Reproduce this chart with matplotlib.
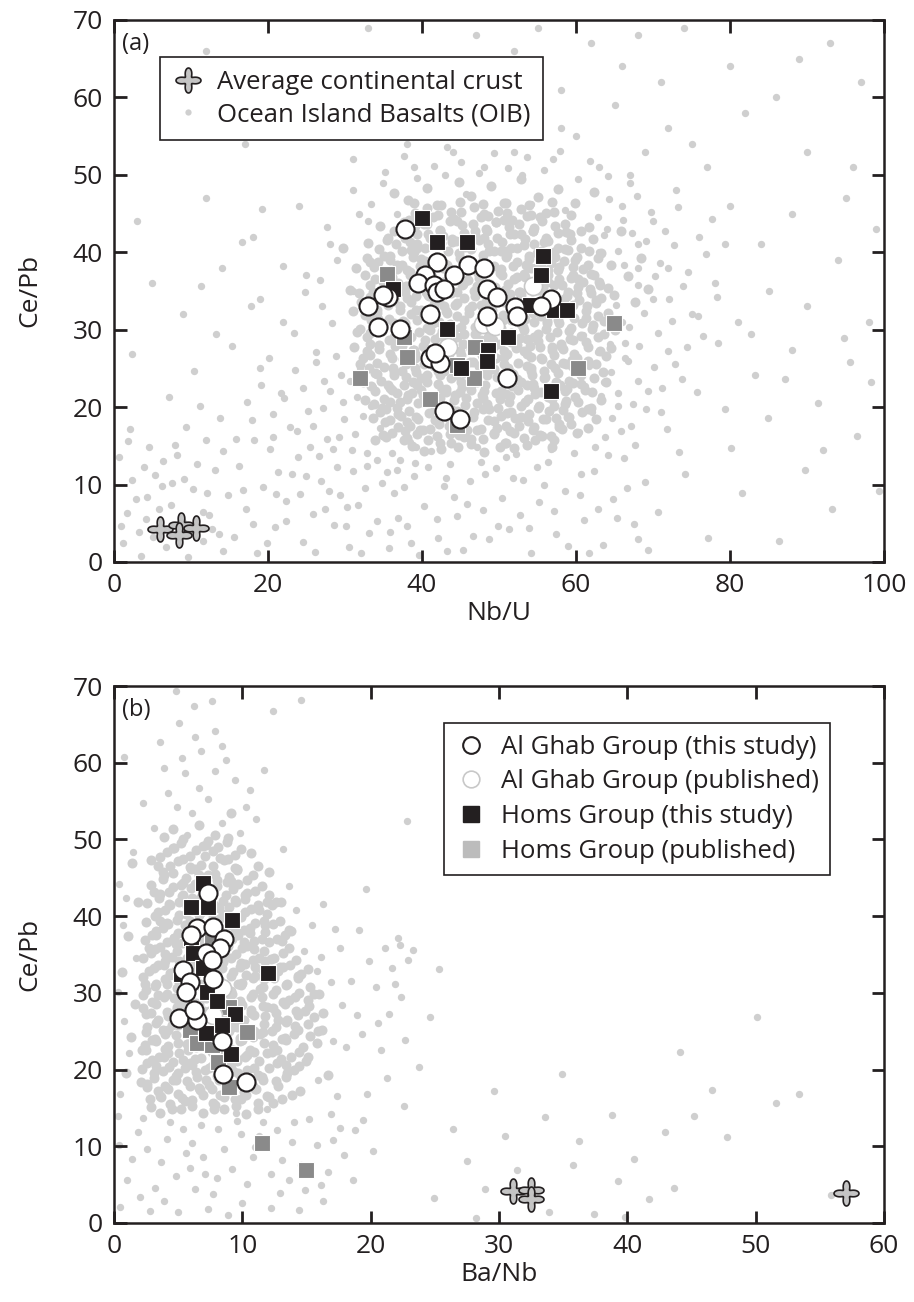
import numpy as np
import matplotlib
matplotlib.use("Agg")
import matplotlib.pyplot as plt
from matplotlib.path import Path
from matplotlib.lines import Line2D

plt.rcParams['font.family'] = ['Open Sans', 'DejaVu Sans']


def pairs(txt):
    return np.array([float(v) for v in txt.split()]).reshape(-1, 2)


# ── data: (a) Nb/U vs Ce/Pb ───────────────────────────────────────────────
ghab_new_a = np.array([
    (37.8, 43.0), (41.9, 38.7), (46.0, 38.3), (48.0, 38.0), (40.4, 37.1), (44.1, 37.0),
    (39.5, 36.0), (41.5, 35.8), (41.9, 34.8), (42.8, 35.2), (35.6, 34.2), (35.0, 34.5),
    (48.5, 35.2), (49.8, 34.2), (33.0, 33.1), (52.1, 32.9), (56.7, 34.0), (55.4, 33.1),
    (52.3, 31.7), (41.1, 32.0), (48.4, 31.8), (34.3, 30.3), (37.1, 30.1), (41.0, 26.4),
    (42.4, 25.7), (41.7, 27.0), (51.0, 23.8), (42.8, 19.5), (45.0, 18.5),
])
ghab_pub_a = np.array([(54.4, 35.6), (47.9, 30.7), (49.5, 30.5), (43.4, 27.7)])
homs_new_a = np.array([
    (40.0, 44.4), (41.9, 41.3), (45.9, 41.3), (55.7, 39.5), (55.4, 37.0), (36.2, 35.2),
    (54.0, 33.2), (57.1, 32.5), (58.8, 32.6), (43.2, 30.1), (51.2, 29.0), (48.6, 27.4),
    (48.4, 25.9), (45.1, 25.0), (56.7, 22.1),
])
homs_pub_a = np.array([
    (35.4, 37.2), (37.6, 29.1), (38.0, 26.5), (46.9, 27.8), (31.9, 23.8), (41.1, 21.1),
    (46.7, 23.8), (44.5, 17.7), (64.9, 30.8), (60.2, 25.1), (44.6, 25.4),
])
crust_a = np.array([(6.0, 4.3), (8.7, 4.8), (8.5, 3.5), (10.7, 4.4)])

# OIB compilation, outer scatter
oib_a_outer = pairs("""
1.2 2.5 2.8 8.1 3.5 0.8 4.1 5.6 5.3 11.2 6.7 1.9 7.4 7.3 8.2 13.8 9.6 0.6 10.3 9.4
11.5 2.7 12.4 6.1 13.1 11.9 14.2 1.4 14.8 8.6 0.6 13.5 2.1 17.2 4.6 14.9 6.2 9.8 8.9 5.2
11.9 15.7 3.3 3.9 5.8 6.9 9.1 10.7 12.7 4.3 1.7 6.3 7.9 15.1
0.9 4.6 2.4 10.6 3.9 12.3 5.1 3.2 6.4 13.1 7.6 10.2 8.4 2.3 10.8 12.7 12.1 8.9 13.6 3.6
14.1 14.3 1.8 15.6 9.9 3.9 11.6 6.5 4.3 8.4
15.6 3.2 16.3 12.4 17.1 6.8 17.9 18.3 18.6 1.1 19.4 9.7 20.2 14.6 20.9 4.5 21.7 21.8 22.3 7.9
23.1 11.3 23.8 16.9 24.5 2.6 25.2 19.5 25.9 6.2 26.6 13.7 27.3 23.4 27.9 9.1 28.6 4.8 29.2 16.2
29.8 20.7 30.5 1.9 31.1 11.8 31.7 7.4 32.3 18.9 32.9 14.1 33.6 22.6 34.2 5.3 34.8 10.2 16.8 9.3
18.2 15.8 19.9 2.4 21.3 11.6 22.8 17.4 24.1 8.8 26.1 1.3 27.6 15.9 28.9 12.2 30.2 7.1 31.5 21.3
33.1 3.7 34.5 17.3 19.1 22.9 23.5 24.8 26.9 10.4 29.5 24.1 32.6 9.6 20.6 19.1 25.5 14.9 30.9 14.4
17.3 20.7 18.9 25.1 20.7 16.2 22.1 21.2 23.9 13.6 24.6 22.4 25.8 17.6 26.3 25.8 27.1 19.9 28.4 14.6
28.1 22.1 29.3 8.6 29.9 18.4 30.7 23.4 31.3 16.5 31.9 25.1 32.8 12.4 33.4 20.2 34.1 13.2 34.6 27.6
35.4 11.6 36.1 14.1 36.8 11.9 37.6 9.7 38.4 15.5 39.1 12.8 22.4 5.3 24.9 11.1 27.4 6.9 30.1 4.6
32.1 1.2 35.9 3.9 18.1 4.9 21.1 8.8 15.9 15.9 13.8 18.6 11.2 20.1 9.3 17.4
35.7 1.8 36.4 8.9 37.2 13.2 38.1 4.6 38.9 11.1 39.6 0.9 40.3 7.2 41.2 14.3 42.1 3.1 42.8 9.8
43.7 12.6 44.5 5.9 45.3 1.5 46.2 10.4 47.1 14.8 47.9 6.7 48.7 2.9 49.6 12.1 50.4 8.3 51.3 4.2
52.2 13.9 53.1 10.6 54.1 1.1 55.2 7.8 56.3 12.9 57.4 3.6 58.6 9.2 59.8 14.1 61.1 5.4 62.3 11.7
63.5 2.2 64.8 8.1 66.2 13.4 67.5 4.9 68.9 10.3 36.9 5.7 40.8 12.2 44.1 8.4 48.2 11.3 52.7 6.1
56.8 14.6 60.5 8.6 65.3 5.7 69.4 1.6 39.2 14.9 46.6 3.4
41.9 5.6 43.3 1.4 45.8 7.5 47.6 12.9 49.9 4.7 51.8 10.9 53.9 4.4 54.9 12.2 57.1 6.6 58.9 2.1
60.7 11.4 62.9 6.9 64.2 13.8 66.6 9.6 68.1 2.9 38.6 2.4 43.1 10.8 50.9 13.6 55.8 9.9 61.7 1.1
70.6 6.4 71.8 17.2 72.9 25.6 74.1 11.3 75.7 21.9 77.2 3.1 78.4 28.3 80.1 14.7 81.6 8.9 83.2 24.1
84.9 18.6 86.3 2.7 88.1 27.4 89.7 11.9 91.4 20.5 93.2 6.8 94.8 28.9 96.5 16.3 98.3 23.2 99.4 9.1
73.4 14.2 79.3 19.8 87.2 23.6 92.1 14.5 76.5 29.2 82.7 29.5 95.6 25.8 71.2 22.4
60.4 16.8 61.2 22.7 62.1 19.3 62.9 27.1 63.8 16.1 64.6 24.5 65.5 20.2 66.3 28.3 67.2 17.6 68.1 23.4
69.1 19.8 60.9 29.3 63.2 21.4 66.8 25.9 61.7 25.3 65.9 16.9
62.8 44.6 64.3 46.9 66.1 44.1 67.9 47.3 69.8 45.2 71.6 42.7 73.3 45.8 63.7 42.2 65.4 40.1 67.3 42.5
69.1 41.4 70.9 38.6 72.7 40.9 74.6 37.4 66.2 38.3 68.0 35.8 70.2 36.9 72.1 33.9 73.9 35.6 75.8 31.7
65.2 33.2 66.9 30.4 68.8 32.2 70.7 29.6 72.5 31.1 74.4 27.8 64.4 28.1 66.3 26.3 68.2 27.9 70.1 25.2
71.9 27.3 73.8 23.6 63.6 23.2 65.5 21.8 67.4 20.4 69.3 22.1 71.1 19.3 64.7 18.6 62.5 14.8 67.7 15.1
76.9 39.8 78.3 34.2 77.6 44.3 79.4 41.1
33.4 46.2 35.2 50.3 37.6 52.4 39.3 49.6 41.6 51.1 43.2 53.6 45.1 51.7 47.4 50.2 49.3 52.8 51.2 50.9
53.6 52.3 55.8 50.6 57.9 53.1 60.2 49.4 61.8 51.8 64.1 49.9 31.8 44.9 36.8 44.9 45.7 47.5 54.1 46.2
58.6 45.4
15.3 27.9 17.8 33.1 20.1 26.4 21.9 38.2 23.4 29.6 24.8 34.8 26.2 27.1 27.7 43.2 28.3 30.9 16.6 41.3
19.2 45.6 13.2 29.4 10.4 24.6 7.1 21.3 2.4 26.8 11.3 35.7 26.7 36.4 28.8 26.6
5 36 9 32 14 38 19 34 22 31 25 37 27 33 29 39 31 35 72 38 75 32 78 36 81 31 85 35 90 33 94 39
98 31 70 34 68 38 66 31
3 44 12 47 18 42 24 46 28 41 31 48 33 44 35 49 64 43 66 46 68 41 70 44 73 48 76 42 80 46 84 41
88 45 95 47 99 43 67 49 63 40
8 57 17 54 26 58 31 52 36 56 39 51 42 58 44 53 46 55 48 51 50 57 52 53 55 58 57 52 60 55 63 51
65 59 69 53 72 56 77 51 82 58 90 53 96 51 38 54 43 50 47 59 53 50 58 56 67 50 75 54
12 66 28 63 33 69 47 68 52 66 58 61 62 67 66 64 71 62 74 69 80 64 86 60 93 67 97 62 40 61 55 69
22 60 45 63 68 68 89 65
""")

# OIB compilation, dense core
oib_a_core = pairs("""
35.3 16.2 35.8 22.4 36.5 27.9 36.9 19.1 37.4 24.6 37.8 16.9 38.3 29.2 38.7 21.8 39.1 26.3 39.5 18.4
39.9 23.7 40.4 28.6 40.8 15.7 41.3 20.9 41.7 25.4 42.2 17.8 42.6 29.8 43.1 22.3 43.5 26.9 43.9 19.6
44.4 24.1 44.8 16.4 45.3 28.1 45.7 21.2 46.2 25.8 46.6 18.7 47.1 23.3 47.5 27.6 47.9 15.9 48.4 20.4
48.8 29.1 49.3 24.9 49.7 17.3 50.2 22.1 50.6 26.5 51.1 19.2 51.5 28.4 52.0 16.6 52.4 23.6 52.9 20.1
53.3 27.3 53.8 18.2 54.2 25.1 54.7 21.7 55.1 29.5 55.6 16.3 56.0 23.9 56.5 19.5 56.9 27.7 57.4 22.6
57.8 17.8 58.3 25.7 58.7 20.8 59.2 28.8 59.6 23.1 36.2 25.1 37.1 20.6 38.0 18.1 38.9 27.4 40.1 21.6
41.0 17.2 41.9 27.8 42.9 24.6 43.8 15.3 44.9 21.9 45.9 17.1 46.9 29.4 47.8 21.6 48.9 25.8 49.9 19.9
50.9 15.4 51.8 24.3 52.7 28.9 53.6 22.9 54.5 17.4 55.4 26.4 56.3 21.3 57.2 15.8 58.1 28.1 59.0 18.7
36.7 29.6 39.4 16.5 42.4 21.2 45.1 18.9 47.4 25.3 50.1 28.2 52.8 18.7 55.8 24.7 58.8 22.3 37.7 22.9
40.7 24.1 43.4 28.4 46.4 22.8 49.4 16.6 51.4 21.4 54.0 27.9 57.1 20.1 59.5 26.1 34.1 24.3 33.3 28.1
32.4 26.4 31.6 29.7 34.8 19.9 33.9 15.8
32.1 33.6 33.2 38.7 34.3 31.4 34.9 36.2 35.6 41.8 36.3 33.9 36.8 38.4 37.5 31.1 37.9 35.7 38.6 40.3
39.2 32.6 39.7 37.1 40.2 43.6 40.9 34.4 41.4 30.8 41.8 39.2 42.3 35.9 42.7 42.1 43.2 32.2 43.7 37.6
44.1 44.3 44.6 34.9 45.1 30.4 45.5 40.8 46.0 36.4 46.5 33.1 46.9 42.7 47.4 38.2 47.8 31.6 48.3 35.3
48.7 40.1 49.2 33.7 49.6 43.9 50.1 37.3 50.5 31.2 51.0 39.6 51.4 34.6 51.9 42.4 52.3 36.8 52.8 30.7
53.2 40.9 53.7 33.4 54.1 37.9 54.6 43.1 55.0 35.1 55.5 31.8 55.9 41.3 56.4 36.2 56.9 33.3 57.3 39.4
57.8 30.9 58.2 35.8 58.7 42.6 59.1 32.9 59.6 38.1 60.1 34.7 60.7 40.6 61.3 31.5 61.9 37.2 62.6 33.8
63.3 39.9 64.1 35.4 64.8 31.3 33.7 34.9 35.1 39.5 36.6 30.3 38.1 34.1 39.4 41.1 40.6 36.7 41.6 32.9
42.9 38.6 44.3 33.2 45.8 38.9 47.1 35.6 48.1 41.9 49.4 30.3 50.8 35.1 52.1 33.1 53.5 38.4 54.9 39.9
56.2 31.1 57.6 37.7 58.9 40.3 60.3 36.6 61.7 43.2 63.0 36.1 37.3 43.2 39.9 39.1 43.9 41.3 48.6 44.7
51.7 44.1 55.3 44.6 59.4 44.8 36.1 36.8 41.1 41.9 45.3 35.9 50.3 40.2 54.4 32.1 58.4 33.9 62.2 41.7
38.4 37.4 46.8 37.9 52.6 34.8 56.7 38.6 64.5 38.3 34.5 43.4 33.0 41.2 31.4 37.9 30.6 35.1 29.7 40.6
65.8 42.8 66.7 36.9 67.6 33.6 68.5 39.2 69.4 35.3
38.2 46.8 40.7 48.3 42.5 46.1 44.8 49.1 46.3 47.2 48.9 48.6 50.7 46.4 52.9 49.4 55.1 47.1 57.6 48.2
36.4 47.6 59.9 46.3 62.4 47.8
40.2 14.3 44.7 14.9 48.1 14.2 51.9 14.7 37.6 15.8 42.3 15.3 46.4 15.9 50.8 15.4 54.7 15.7
36.1 16.6 39.8 17.1 43.6 16.5 47.2 17.0 51.4 16.9 55.3 16.4 58.2 17.2
35.2 18.1 38.4 17.6 41.7 18.3 45.1 17.7 49.3 18.2 52.6 17.5 56.1 18.4 59.4 17.8
34.6 19.3 37.3 18.8 40.9 19.2 43.2 18.7 46.8 19.4 50.2 18.9 53.9 19.1 57.4 18.6 60.8 19.3
33.8 20.4 36.7 19.9 39.5 20.5 42.8 20.0 45.6 20.3 48.7 19.8 51.3 20.6 55.2 20.1 58.6 20.4 61.9 19.9
35.1 21.1 38.2 21.6 41.4 21.0 44.3 21.5 47.9 21.2 50.9 21.7 53.8 21.1 56.7 21.6 59.9 21.3
33.4 22.7 36.1 22.2 39.3 22.8 42.6 22.3 45.2 22.6 48.1 22.1 51.7 22.7 54.6 22.4 57.9 22.8 61.2 22.2
34.7 23.4 37.9 23.9 40.6 23.3 43.8 23.8 46.9 23.5 49.8 23.9 52.9 23.3 55.8 23.7 59.1 23.4 62.4 23.8
33.1 25.0 36.4 24.5 39.1 25.1 42.1 24.6 45.3 24.9 48.4 24.4 51.2 25.0 54.1 24.6 57.3 25.1 60.2 24.7
34.2 25.7 37.5 26.2 40.3 25.6 43.4 26.1 46.6 25.8 49.6 26.3 52.5 25.7 55.6 26.2 58.7 25.6 61.6 26.0
32.8 27.3 35.9 26.8 38.8 27.4 41.9 26.9 44.9 27.2 47.8 26.7 50.7 27.3 53.7 26.9 56.9 27.4 59.8 26.8
63.1 27.2 34.4 28.0 37.2 28.5 40.1 27.9 43.1 28.4 46.2 28.1 49.2 28.6 52.3 28.0 55.1 28.5 58.1 27.9
61.3 28.4 33.2 29.6 36.3 29.1 39.6 29.7 42.4 29.2 45.5 29.5 48.6 29.0 51.6 29.6 54.5 29.1 57.5 29.7
60.6 29.2 63.6 29.5 34.9 30.3 37.8 30.8 40.7 30.2 43.7 30.7 46.9 30.4 49.9 30.9 53.1 30.3 56.2 30.8
59.3 30.2 62.2 30.6 32.6 31.9 35.7 31.4 38.6 32.0 41.6 31.5 44.6 31.8 47.6 31.3 50.5 31.9 53.4 31.4
56.6 32.0 59.7 31.5 62.9 31.8 34.1 32.6 37.1 33.1 39.9 32.5 42.9 33.0 46.1 32.7 48.9 33.2 52.1 32.6
54.9 33.1 58.2 32.5 61.4 33.0 33.3 34.2 36.2 33.7 39.2 34.3 42.2 33.8 45.4 34.1 48.3 33.6 51.3 34.2
54.3 33.7 57.1 34.3 60.4 33.8 63.3 34.1 34.8 34.9 37.7 35.4 40.5 34.8 43.5 35.3 46.7 35.0 49.5 35.5
52.7 34.9 55.7 35.4 58.9 34.8 61.8 35.2 33.9 36.5 36.9 36.0 39.7 36.6 42.7 36.1 45.9 36.4 48.8 35.9
51.9 36.5 54.8 36.0 57.8 36.6 60.9 36.1 35.3 37.2 38.1 37.7 41.2 37.1 44.1 37.6 47.3 37.3 50.3 37.8
53.3 37.2 56.4 37.7 59.6 37.1 34.3 38.8 37.4 38.3 40.4 38.9 43.3 38.4 46.4 38.7 49.4 38.2 52.4 38.8
55.4 38.3 58.4 38.9 61.6 38.4 35.9 39.5 38.9 40.0 41.8 39.4 44.8 39.9 47.9 39.6 50.9 40.1 53.9 39.5
57.2 40.0 60.1 39.4 36.6 41.1 39.4 40.6 42.5 41.2 45.6 40.7 48.6 41.0 51.6 40.5 54.6 41.1 57.7 40.6
37.8 41.8 40.8 42.3 43.9 41.7 46.9 42.2 49.8 41.9 52.8 42.4 56.1 41.8 59.2 42.3 39.1 43.4 42.3 42.9
45.2 43.5 48.3 43.0 51.3 43.3 54.4 42.8 57.3 43.4 38.3 44.1 41.4 44.6 44.6 44.0 47.6 44.5 50.6 44.2
53.6 44.7 40.6 45.7 43.8 45.2 46.8 45.8 49.9 45.3 52.9 45.6 56.1 45.1
38.7 15.0 42.5 14.6 46.3 15.2 50.1 14.8 53.6 15.1 56.9 14.9
34.9 16.4 38.1 16.0 41.9 16.3 45.4 16.1 49.3 16.5 53.2 16.0 56.8 16.3 60.1 16.6
36.9 17.4 40.1 17.0 43.5 17.5 47.6 17.2 50.9 17.6 54.4 17.1 57.8 17.4 61.6 17.3
33.7 18.6 35.9 18.3 39.2 18.7 42.1 18.4 44.9 18.8 48.6 18.3 52.1 18.6 55.7 18.4 59.1 18.7 62.6 18.5
35.3 19.8 38.3 19.5 41.7 19.9 44.6 19.5 47.9 19.8 51.6 19.4 55.1 19.9 58.3 19.6 61.5 19.8
32.6 20.9 35.9 20.6 38.1 21.0 41.3 20.7 44.2 20.9 47.2 20.5 50.1 21.0 53.4 20.7 56.9 21.0 60.3 20.6
63.2 20.9 33.9 22.1 36.8 21.8 39.9 22.2 43.1 21.9 46.4 22.2 49.6 21.8 52.5 22.2 55.4 21.9 58.6 22.1
62.1 21.9 32.4 23.2 35.6 22.9 38.8 23.3 42.1 23.0 45.1 23.3 48.2 22.9 51.3 23.2 54.4 23.0 57.4 23.3
60.6 23.0 63.9 23.2 33.9 24.4 36.3 24.1 39.2 24.5 42.3 24.2 45.5 24.4 48.4 24.1 51.4 24.5 54.3 24.2
57.6 24.4 60.7 24.2 63.5 24.5 31.9 25.5 35.1 25.2 37.9 25.6 41.6 25.3 44.8 25.5 47.9 25.2 50.6 25.6
53.6 25.3 56.7 25.5 59.5 25.3 62.6 25.5 33.2 26.7 36.1 26.4 39.1 26.8 41.9 26.5 45.1 26.7 48.1 26.4
51.1 26.8 54.1 26.5 57.2 26.7 60.1 26.4 63.9 26.6 31.2 27.8 34.4 27.5 37.4 27.9 40.4 27.6 43.4 27.8
46.3 27.5 49.3 27.9 52.2 27.6 55.3 27.8 58.3 27.5 61.5 27.8 64.6 27.6 32.8 29.0 35.7 28.7 38.6 29.1
41.7 28.8 44.6 29.0 47.7 28.7 50.8 29.1 53.7 28.8 56.6 29.0 59.6 28.7 62.8 29.0 31.9 30.1 34.8 29.8
37.9 30.2 41.1 29.9 44.1 30.1 47.2 29.8 50.3 30.2 53.2 29.9 56.1 30.1 59.1 29.8 62.1 30.1 65.1 29.9
33.4 31.2 36.4 30.9 39.3 31.3 42.2 31.0 45.4 31.2 48.4 30.9 51.5 31.3 54.6 31.0 57.7 31.2 60.8 30.9
63.7 31.1 31.1 32.4 34.1 32.1 37.1 32.5 40.1 32.2 43.1 32.4 46.1 32.1 49.1 32.5 51.9 32.2 55.1 32.4
58.1 32.1 61.3 32.4 64.2 32.2 32.6 33.5 35.6 33.2 38.6 33.6 41.5 33.3 44.5 33.5 47.6 33.2 50.6 33.6
53.5 33.3 56.6 33.5 59.6 33.2 62.6 33.5 31.8 34.7 34.8 34.4 37.8 34.8 40.8 34.5 43.8 34.7 46.9 34.4
49.8 34.8 52.9 34.5 55.8 34.7 58.8 34.4 61.9 34.7 64.9 34.5 33.3 35.8 36.2 35.5 39.1 35.9 42.1 35.6
45.2 35.8 48.1 35.5 51.2 35.9 54.2 35.6 57.2 35.8 60.3 35.5 63.1 35.8 32.6 37.0 35.4 36.7 38.4 37.1
41.3 36.8 44.4 37.0 47.4 36.7 50.4 37.1 53.4 36.8 56.3 37.0 59.3 36.7 62.4 37.0 33.8 38.1 36.7 37.8
39.8 38.2 42.7 37.9 45.8 38.1 48.8 37.8 51.8 38.2 54.8 37.9 57.8 38.1 60.9 37.8 32.9 39.3 35.8 39.0
38.8 39.4 41.9 39.1 44.9 39.3 47.9 39.0 50.9 39.4 53.9 39.1 56.9 39.3 59.9 39.0 62.9 39.3 34.4 40.4
37.4 40.1 40.4 40.5 43.4 40.2 46.4 40.4 49.4 40.1 52.4 40.5 55.4 40.2 58.6 40.4 61.7 40.1 35.4 41.6
38.4 41.3 41.4 41.7 44.4 41.4 47.4 41.6 50.4 41.3 53.4 41.7 56.4 41.4 59.4 41.6 36.4 42.7 39.4 42.4
42.4 42.8 45.4 42.5 48.4 42.7 51.4 42.4 54.4 42.8 57.6 42.5 60.6 42.7 37.6 43.9 40.6 43.6 43.6 44.0
46.6 43.7 49.6 43.9 52.6 43.6 55.6 44.0 58.6 43.7 39.1 45.1 42.1 44.8 45.1 45.2 48.1 44.9 51.1 45.1
54.1 44.8 57.1 45.2 38.9 46.4 41.9 46.1 44.9 46.5 47.9 46.2 50.9 46.4 53.9 46.1 56.9 46.5
""")

# ── data: (b) Ba/Nb vs Ce/Pb ──────────────────────────────────────────────
ghab_new_b = np.array([
    (6.47, 38.5), (7.72, 38.6), (8.57, 37.0), (8.26, 35.8), (7.17, 35.2), (7.64, 34.3),
    (5.38, 33.0), (5.92, 31.4), (5.61, 30.1), (7.72, 31.8), (5.07, 26.7), (6.47, 26.4),
    (8.42, 23.7), (8.50, 19.4), (10.3, 18.4), (6.20, 27.8), (6.0, 37.6), (7.3, 43.0),
])
ghab_pub_b = np.array([(8.42, 30.6), (7.7, 27.1), (6.9, 33.9), (8.0, 24.6)])
homs_new_b = np.array([
    (6.94, 44.3), (6.0, 41.2), (7.33, 41.2), (9.2, 39.5), (6.0, 37.2), (6.16, 35.2),
    (6.94, 33.2), (5.22, 32.5), (12.0, 32.6), (7.25, 30.1), (8.03, 28.9), (9.43, 27.2),
    (8.42, 25.8), (7.17, 24.8), (9.12, 22.0),
])
homs_pub_b = np.array([
    (7.6, 37.3), (10.4, 24.9), (5.9, 25.2), (6.5, 23.5), (7.6, 23.2), (8.1, 21.0),
    (9.0, 17.7), (9.0, 28.2), (11.5, 10.4), (15.0, 6.9), (8.0, 29.2),
])
crust_b = np.array([(31.1, 4.2), (32.5, 4.3), (32.5, 3.1), (57.05, 3.9)])

oib_b_outer = pairs("""
4.8 69.3 6.2 67.4 5.1 65.2 7.9 64.1 3.6 62.7 6.8 61.5 8.7 60.3 5.5 58.6 9.4 57.8 4.2 56.1
7.3 55.3 10.3 54.2 6.1 53.4 8.4 52.1 3.1 51.5 5.7 50.6 9.8 50.9 11.7 59.1 2.3 54.8 7.6 68.1
12.4 66.7 14.6 68.2 0.8 60.8 11.1 52.6 13.2 48.8 33.2 58.7 22.8 52.4 19.6 43.6
4.9 54.2 6.6 56.7 7.9 58.9 5.3 60.6 6.3 63.4 8.4 62.2 10.6 56.4 3.9 59.3
0.5 2.1 1.4 8.3 2.3 13.7 3.2 4.6 4.1 10.9 5.0 1.4 5.9 7.2 6.8 12.8 7.7 3.8 8.6 9.6
9.5 14.3 10.4 5.1 11.3 11.4 12.2 1.9 13.1 8.2 14.0 13.1 14.9 4.3 15.8 10.1 16.7 6.7 17.6 12.4
1.9 11.8 3.7 7.9 5.4 12.2 7.1 6.4 8.9 1.1 10.8 8.6 12.7 12.1 14.6 7.6 16.3 2.8 2.8 1.5
6.3 4.4 9.9 11.6 13.6 5.6 0.3 13.9 4.6 14.8 11.9 14.9 17.9 8.9
1.0 5.6 2.6 9.7 3.9 2.9 4.8 6.1 6.1 10.4 7.3 1.8 8.1 12.3 9.2 7.1 10.0 2.6 11.6 13.2
12.9 3.9 13.9 10.5 15.2 13.6 16.1 4.9 17.1 10.8 0.4 10.2 2.0 3.4 5.6 9.1 8.0 5.8 11.0 9.9
14.4 1.7 16.9 14.2 18.6 5.6 19.4 13.4 6.9 8.6 4.4 13.2 9.6 13.3 12.2 6.4
16.1 34.7 17.2 38.3 17.8 28.4 18.5 31.6 19.3 24.7 20.4 30.8 21.1 35.9 21.7 33.2 22.1 37.1 22.4 29.4
22.9 34.3 21.4 27.3 20.8 22.6 19.7 16.8 18.8 12.1 20.2 9.4 22.6 15.2 23.8 20.3 17.4 16.6 24.6 26.8
14.8 35.4 15.4 38.9 16.3 41.6 16.9 31.4 17.6 35.8 18.1 22.9 18.9 27.1 15.9 18.6 17.1 23.7 14.2 40.8
13.6 43.9 19.1 38.2 19.9 34.1 20.6 26.1 21.9 31.1 22.7 23.8 21.3 18.9 23.3 35.6 22.3 36.2 15.8 32.8
25.3 33.1 26.4 12.2 27.5 8.1 28.9 4.4 29.6 17.2 30.5 11.3 31.4 6.9 33.6 13.8 34.9 19.4 35.8 7.6
36.2 10.7 37.4 1.2 38.8 14.1 39.3 5.5 40.5 8.3 41.7 3.1 43.6 4.6 44.1 22.3 45.2 13.9 47.8 11.2
50.1 26.9 51.6 15.6 53.4 16.8 55.9 3.7 28.2 0.6 33.9 1.4 42.9 11.8 46.6 17.3 24.9 3.2 39.8 0.8
0.4 44.2 0.7 38.9 0.3 30.1 0.8 26.3 1.2 22.1 0.5 16.8 1.7 34.6 1.5 48.3 0.9 42.4
""")

oib_b_core = pairs("""
2.9 47.3 4.6 48.9 5.9 46.4 7.2 49.3 8.3 47.6 9.6 46.1 10.7 48.2 6.6 45.3 3.8 45.8 12.1 45.7 1.4 46.9
3.1 43.2 4.3 41.6 5.2 44.1 6.1 42.4 7.3 43.8 8.2 41.1 9.1 44.6 10.2 42.7 11.3 40.8 3.6 39.4
4.7 37.2 5.6 40.3 6.4 38.1 7.7 39.7 8.6 37.5 9.5 39.9 10.6 37.8 11.8 38.9 12.6 41.9 2.7 35.8
3.9 33.6 4.8 36.4 5.9 34.2 6.9 36.9 7.8 34.8 8.9 36.1 9.9 33.9 10.9 35.7 12.2 34.4 13.1 36.8
2.4 31.2 3.4 29.7 4.4 32.6 5.3 30.4 6.3 32.1 7.2 29.3 8.1 31.7 9.2 29.9 10.3 32.3 11.4 30.5
12.5 31.9 13.6 29.1 2.9 27.4 3.8 25.2 4.9 27.9 5.8 24.6 6.7 26.8 7.6 24.1 8.7 27.3 9.6 25.5
10.7 27.8 11.6 24.9 12.8 26.4 14.1 25.7 2.2 22.6 3.3 20.4 4.2 23.1 5.4 21.3 6.4 22.9 7.4 20.2
8.4 22.4 9.3 19.8 10.4 21.9 11.2 19.3 12.3 22.3 13.4 20.6 2.6 18.1 3.7 16.4 4.6 18.7 5.5 15.9
6.6 17.6 7.9 15.4 8.9 17.9 9.9 16.2 11.1 17.4 12.4 15.6 4.1 39.1 5.4 42.8 6.7 40.6 8.0 44.7
9.4 42.1 3.3 37.6 6.2 35.3 7.1 33.3 8.4 33.2 9.7 31.1 4.1 31.1 5.1 28.6 6.0 30.9 7.0 27.6
8.3 28.8 9.0 26.1 10.0 28.4 4.5 25.8 5.6 26.7 6.2 23.8 7.1 25.3 8.1 23.3 9.8 23.7 10.8 24.3
3.9 21.7 5.0 19.6 6.1 20.6 7.2 18.7 8.3 19.4 9.6 21.1 10.6 18.6 3.0 23.9 11.9 28.2 12.9 33.4
13.8 38.1 14.3 32.2 14.9 27.6 15.6 29.9 16.2 25.1 15.1 21.7 16.7 19.3 14.5 17.2 13.3 24.1 1.6 28.5
1.1 37.4 1.9 41.8 0.6 32.7 1.3 24.2 0.9 19.5 6.9 37.8 5.5 33.1 4.0 35.1 7.5 41.5 10.1 36.6
11.0 33.4 8.6 35.0 9.4 38.1
3.6 14.4 5.2 14.9 6.9 14.3 8.6 14.8 10.3 14.2 2.8 16.1 4.4 15.5 6.1 16.0 7.7 15.6 9.4 16.2
11.2 15.7 13.1 16.1 3.4 17.2 5.0 16.8 6.7 17.3 8.3 16.7 10.1 17.1 11.9 16.6 2.1 18.4 4.0 17.9
5.7 18.5 7.4 18.0 9.0 18.3 10.8 17.8 12.6 18.5 3.1 19.6 4.8 19.1 6.4 19.7 8.0 19.2 9.7 19.5
11.5 19.0 13.5 19.6 2.6 20.8 4.3 20.3 5.9 20.9 7.6 20.4 9.1 20.7 10.9 20.2 12.7 20.8 14.4 20.5
3.5 21.6 5.1 22.1 6.8 21.5 8.5 22.0 10.2 21.7 11.9 22.2 13.8 21.6 2.4 23.2 4.0 22.7 5.7 23.3
7.3 22.8 8.9 23.1 10.6 22.6 12.4 23.2 14.7 23.0 3.2 24.0 4.8 24.5 6.5 23.9 8.1 24.4 9.8 24.1
11.4 24.6 13.1 24.0 15.3 24.4 2.6 25.6 4.2 25.1 5.9 25.7 7.6 25.2 9.2 25.5 10.9 25.0 12.6 25.6
14.3 25.2 3.4 26.4 5.1 26.9 6.8 26.3 8.4 26.8 10.1 26.5 11.8 27.0 13.5 26.4 15.6 26.9 2.3 28.0
4.1 27.5 5.6 28.1 7.4 27.6 9.0 27.9 10.7 27.4 12.4 28.0 14.2 27.6 3.0 28.8 4.7 29.3 6.4 28.7
8.1 29.2 9.8 28.9 11.5 29.4 13.2 28.8 15.1 29.1 2.5 30.4 4.1 29.9 5.8 30.5 7.5 30.0 9.1 30.3
10.8 29.8 12.6 30.4 14.4 30.0 3.3 31.2 5.0 31.7 6.7 31.1 8.3 31.6 10.0 31.3 11.7 31.8 13.5 31.2
2.7 32.8 4.4 32.3 6.0 32.9 7.7 32.4 9.3 32.7 11.0 32.2 12.8 32.8 14.6 32.5 3.4 33.6 5.1 34.1
6.8 33.5 8.5 34.0 10.2 33.7 11.8 34.2 13.7 33.6 2.9 35.2 4.5 34.7 6.2 35.3 7.9 34.8 9.5 35.1
11.3 34.6 13.2 35.2 3.6 36.0 5.3 36.5 7.0 35.9 8.7 36.4 10.4 36.1 12.1 36.6 3.0 37.6 4.7 37.1
6.4 37.7 8.0 37.2 9.7 37.5 11.5 37.0 13.3 37.6 3.8 38.4 5.5 38.9 7.2 38.3 8.9 38.8 10.6 38.5
12.4 39.0 3.2 40.0 4.9 39.5 6.6 40.1 8.2 39.6 9.9 39.9 11.7 39.4 4.0 40.8 5.7 41.3 7.4 40.7
9.0 41.2 10.7 40.9 12.3 41.4 3.5 42.4 5.1 41.9 6.8 42.5 8.5 42.0 10.2 42.3 11.9 41.8 4.3 43.2
6.0 43.7 7.6 43.1 9.3 43.6 11.0 43.3 3.8 44.8 5.4 44.3 7.1 44.9 8.8 44.4 10.4 44.7 4.6 45.6
6.3 46.1 7.9 45.5 9.6 46.0 5.0 47.2 6.8 46.7 8.6 47.3 3.4 46.6 4.1 48.4 5.9 47.9 7.7 48.5
9.4 48.0 5.2 49.6 6.9 49.1 8.8 49.7 4.6 51.3 6.6 51.9 7.9 50.6 9.1 53.4
2.9 15.1 4.5 14.8 6.1 15.2 7.8 14.9 9.5 15.2 11.2 14.9 3.6 16.6 5.3 16.3 6.9 16.7 8.6 16.4
10.3 16.7 12.1 16.4 13.9 16.7 2.6 17.7 4.2 17.4 5.9 17.8 7.6 17.5 9.2 17.8 11.0 17.5 12.8 17.8
3.1 18.9 4.8 18.6 6.5 19.0 8.2 18.7 9.9 19.0 11.6 18.7 13.4 19.0 2.2 20.1 3.8 19.8 5.5 20.2
7.1 19.9 8.8 20.2 10.4 19.9 12.1 20.2 14.0 19.9 3.0 21.3 4.6 21.0 6.3 21.4 8.0 21.1 9.6 21.4
11.3 21.1 13.0 21.4 15.0 21.1 2.5 22.5 4.2 22.2 5.8 22.6 7.6 22.3 9.3 22.6 10.9 22.3 12.7 22.6
14.4 22.3 3.3 23.7 5.0 23.4 6.7 23.8 8.4 23.5 10.0 23.8 11.7 23.5 13.4 23.8 15.8 23.5 2.5 24.9
4.0 24.6 5.7 25.0 7.3 24.7 9.0 25.0 10.6 24.7 12.3 25.0 14.0 24.7 15.9 25.0 3.3 26.1 5.0 25.8
6.7 26.2 8.3 25.9 10.0 26.2 11.7 25.9 13.4 26.2 15.1 25.9 2.5 27.3 4.2 27.0 5.9 27.4 7.6 27.1
9.2 27.4 10.9 27.1 12.6 27.4 14.3 27.1 16.3 27.4 3.3 28.5 4.9 28.2 6.6 28.6 8.2 28.3 9.9 28.6
11.6 28.3 13.3 28.6 15.2 28.3 2.3 29.7 3.9 29.4 5.6 29.8 7.3 29.5 9.0 29.8 10.7 29.5 12.4 29.8
14.1 29.5 16.0 29.8 3.2 30.9 4.9 30.6 6.6 31.0 8.3 30.7 9.9 31.0 11.6 30.7 13.4 31.0 15.3 30.7
2.3 32.1 4.0 31.8 5.7 32.2 7.4 31.9 9.1 32.2 10.8 31.9 12.5 32.2 14.3 31.9 3.1 33.3 4.8 33.0
6.5 33.4 8.1 33.1 9.8 33.4 11.5 33.1 13.2 33.4 15.1 33.1 2.3 34.5 4.0 34.2 5.7 34.6 7.4 34.3
9.1 34.6 10.8 34.3 12.5 34.6 14.2 34.3 3.2 35.7 4.9 35.4 6.6 35.8 8.3 35.5 10.0 35.8 11.7 35.5
13.6 35.8 2.4 36.9 4.1 36.6 5.8 37.0 7.5 36.7 9.2 37.0 10.9 36.7 12.7 37.0 3.3 38.1 5.0 37.8
6.7 38.2 8.4 37.9 10.1 38.2 11.8 37.9 13.6 38.2 2.5 39.3 4.2 39.0 5.9 39.4 7.6 39.1 9.3 39.4
11.0 39.1 12.9 39.4 3.4 40.5 5.1 40.2 6.8 40.6 8.5 40.3 10.2 40.6 11.9 40.3 2.6 41.7 4.4 41.4
6.1 41.8 7.8 41.5 9.5 41.8 11.2 41.5 13.0 41.8 3.6 42.9 5.3 42.6 7.0 43.0 8.7 42.7 10.4 43.0
12.1 42.7 2.9 44.1 4.6 43.8 6.3 44.2 8.0 43.9 9.7 44.2 11.5 43.9 3.9 45.3 5.6 45.0 7.3 45.4
9.0 45.1 10.8 45.4 4.4 46.5 6.0 46.2 7.7 46.6 9.4 46.3 11.2 46.6 3.6 47.7 5.4 47.4 7.1 47.8
8.9 47.5 4.7 48.9 6.4 48.6 8.1 49.0 9.9 48.7 5.4 50.1 7.3 49.8 8.9 50.2 3.9 50.3
""")

# ── styles ────────────────────────────────────────────────────────────────
OIB_C = "#cfcfcf"
DARK = "#231f20"
GRAY_SQ = "#8a8a8a"
LIGHT_SQ = "#bcbcbc"
CRUST_C = "#c4c4c4"
FS = 19

# four-lobed marker for the crust estimates
_t = np.linspace(0, 2 * np.pi, 97)
_r = 0.68 + 0.32 * np.cos(4 * _t)
CRUST_M = Path(np.column_stack([_r * np.cos(_t), _r * np.sin(_t)]), closed=True)

fig = plt.figure(figsize=(9.14, 13.02), dpi=100)
ax_a = fig.add_axes([0.1247, 0.5684, 0.8425, 0.4163])
ax_b = fig.add_axes([0.1247, 0.0607, 0.8425, 0.4124])


def draw(ax, outer, core, crust, gn, gp, hn, hp):
    ax.scatter(outer[:, 0], outer[:, 1], s=28, color=OIB_C, lw=0, zorder=1)
    ax.scatter(core[:, 0], core[:, 1], s=52, color=OIB_C, lw=0, zorder=1)
    ax.plot(hp[:, 0], hp[:, 1], ls="none", marker="s", ms=12, mfc=GRAY_SQ, mec="white", mew=0.8, zorder=3)
    ax.plot(gp[:, 0], gp[:, 1], ls="none", marker="o", ms=13, mfc="white", mec="#c8c8c8", mew=1.2, zorder=3)
    ax.plot(hn[:, 0], hn[:, 1], ls="none", marker="s", ms=12, mfc=DARK, mec="white", mew=0.8, zorder=4)
    ax.plot(gn[:, 0], gn[:, 1], ls="none", marker="o", ms=13, mfc="white", mec=DARK, mew=1.5, zorder=4)
    ax.plot(crust[:, 0], crust[:, 1], ls="none", marker=CRUST_M, ms=18, mfc=CRUST_C, mec=DARK, mew=1.2, zorder=5)
    ax.tick_params(direction="in", length=9, width=2, top=True, right=True,
                   labelsize=FS, pad=8, color=DARK, labelcolor=DARK)
    for sp in ax.spines.values():
        sp.set_linewidth(1.8)
        sp.set_color(DARK)
    ax.set_ylabel("Ce/Pb", fontsize=FS, color=DARK, labelpad=22)


draw(ax_a, oib_a_outer, oib_a_core, crust_a, ghab_new_a, ghab_pub_a, homs_new_a, homs_pub_a)
ax_a.set_xlim(0, 100)
ax_a.set_ylim(0, 70)
ax_a.set_xticks([0, 20, 40, 60, 80, 100])
ax_a.set_yticks(range(0, 71, 10))
ax_a.set_xlabel("Nb/U", fontsize=FS, color=DARK, labelpad=2)
ax_a.text(0.01, 0.977, "(a)", transform=ax_a.transAxes, fontsize=17, va="top", color=DARK)

h_crust = Line2D([], [], ls="none", marker=CRUST_M, ms=18, mfc=CRUST_C, mec=DARK, mew=1.2)
h_oib = Line2D([], [], ls="none", marker="o", ms=4.5, mfc=OIB_C, mec="none")
leg_a = ax_a.legend([h_crust, h_oib], ["Average continental crust", "Ocean Island Basalts (OIB)"],
                    loc="upper left", bbox_to_anchor=(0.06, 0.932), fontsize=18.5, frameon=True,
                    fancybox=False, edgecolor=DARK, framealpha=1, borderpad=0.5,
                    handletextpad=0.5, labelspacing=0.3, handlelength=1.2, borderaxespad=0)
leg_a.get_frame().set_linewidth(1.2)
for t in leg_a.get_texts():
    t.set_color(DARK)

draw(ax_b, oib_b_outer, oib_b_core, crust_b, ghab_new_b, ghab_pub_b, homs_new_b, homs_pub_b)
ax_b.set_xlim(0, 60)
ax_b.set_ylim(0, 70)
ax_b.set_xticks(range(0, 61, 10))
ax_b.set_yticks(range(0, 71, 10))
ax_b.set_xlabel("Ba/Nb", fontsize=FS, color=DARK, labelpad=2)
ax_b.text(0.01, 0.977, "(b)", transform=ax_b.transAxes, fontsize=17, va="top", color=DARK)

hb = [
    Line2D([], [], ls="none", marker="o", ms=12, mfc="white", mec=DARK, mew=1.5),
    Line2D([], [], ls="none", marker="o", ms=12, mfc="white", mec="#c8c8c8", mew=1.2),
    Line2D([], [], ls="none", marker="s", ms=11, mfc=DARK, mec=DARK),
    Line2D([], [], ls="none", marker="s", ms=11, mfc=LIGHT_SQ, mec=LIGHT_SQ),
]
leg_b = ax_b.legend(hb, ["Al Ghab Group (this study)", "Al Ghab Group (published)",
                         "Homs Group (this study)", "Homs Group (published)"],
                    loc="upper right", bbox_to_anchor=(0.93, 0.931), fontsize=18.5, frameon=True,
                    fancybox=False, edgecolor=DARK, framealpha=1, borderpad=0.45,
                    handletextpad=0.55, labelspacing=0.38, handlelength=1.2, borderaxespad=0)
leg_b.get_frame().set_linewidth(1.2)
for t in leg_b.get_texts():
    t.set_color(DARK)

fig.savefig("out.png", dpi=100, facecolor="white")
